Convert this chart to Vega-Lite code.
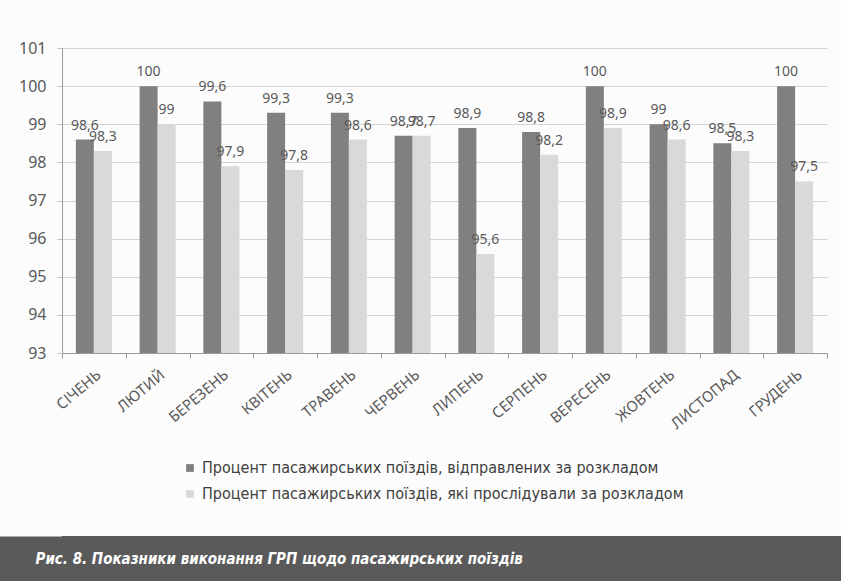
{
  "$schema": "https://vega.github.io/schema/vega-lite/v6.json",
  "background": "#fcfcfc",
  "padding": {"top": 40, "left": 0, "right": 0, "bottom": 0},
  "columns": 1,
  "align": "none",
  "spacing": 104,
  "config": {
    "locale": {"number": {"decimal": ",", "thousands": " ", "grouping": [3], "currency": ["", ""]}},
    "font": "Noto Sans"
  },
  "datasets": {
    "rows": [
      {"month": "СІЧЕНЬ", "series": "Процент пасажирських поїздів, відправлених за розкладом", "value": 98.6},
      {"month": "СІЧЕНЬ", "series": "Процент пасажирських поїздів, які прослідували за розкладом", "value": 98.3},
      {"month": "ЛЮТИЙ", "series": "Процент пасажирських поїздів, відправлених за розкладом", "value": 100},
      {"month": "ЛЮТИЙ", "series": "Процент пасажирських поїздів, які прослідували за розкладом", "value": 99},
      {"month": "БЕРЕЗЕНЬ", "series": "Процент пасажирських поїздів, відправлених за розкладом", "value": 99.6},
      {"month": "БЕРЕЗЕНЬ", "series": "Процент пасажирських поїздів, які прослідували за розкладом", "value": 97.9},
      {"month": "КВІТЕНЬ", "series": "Процент пасажирських поїздів, відправлених за розкладом", "value": 99.3},
      {"month": "КВІТЕНЬ", "series": "Процент пасажирських поїздів, які прослідували за розкладом", "value": 97.8},
      {"month": "ТРАВЕНЬ", "series": "Процент пасажирських поїздів, відправлених за розкладом", "value": 99.3},
      {"month": "ТРАВЕНЬ", "series": "Процент пасажирських поїздів, які прослідували за розкладом", "value": 98.6},
      {"month": "ЧЕРВЕНЬ", "series": "Процент пасажирських поїздів, відправлених за розкладом", "value": 98.7},
      {"month": "ЧЕРВЕНЬ", "series": "Процент пасажирських поїздів, які прослідували за розкладом", "value": 98.7},
      {"month": "ЛИПЕНЬ", "series": "Процент пасажирських поїздів, відправлених за розкладом", "value": 98.9},
      {"month": "ЛИПЕНЬ", "series": "Процент пасажирських поїздів, які прослідували за розкладом", "value": 95.6},
      {"month": "СЕРПЕНЬ", "series": "Процент пасажирських поїздів, відправлених за розкладом", "value": 98.8},
      {"month": "СЕРПЕНЬ", "series": "Процент пасажирських поїздів, які прослідували за розкладом", "value": 98.2},
      {"month": "ВЕРЕСЕНЬ", "series": "Процент пасажирських поїздів, відправлених за розкладом", "value": 100},
      {"month": "ВЕРЕСЕНЬ", "series": "Процент пасажирських поїздів, які прослідували за розкладом", "value": 98.9},
      {"month": "ЖОВТЕНЬ", "series": "Процент пасажирських поїздів, відправлених за розкладом", "value": 99},
      {"month": "ЖОВТЕНЬ", "series": "Процент пасажирських поїздів, які прослідували за розкладом", "value": 98.6},
      {"month": "ЛИСТОПАД", "series": "Процент пасажирських поїздів, відправлених за розкладом", "value": 98.5},
      {"month": "ЛИСТОПАД", "series": "Процент пасажирських поїздів, які прослідували за розкладом", "value": 98.3},
      {"month": "ГРУДЕНЬ", "series": "Процент пасажирських поїздів, відправлених за розкладом", "value": 100},
      {"month": "ГРУДЕНЬ", "series": "Процент пасажирських поїздів, які прослідували за розкладом", "value": 97.5}
    ],
    "caption": [{"text": "Рис. 8. Показники виконання ГРП щодо пасажирських поїздів"}]
  },
  "concat": [
    {
      "width": 765,
      "height": 305,
      "data": {"name": "rows"},
      "view": {"stroke": null},
      "encoding": {
        "x": {
          "field": "month", "type": "nominal", "sort": null,
          "scale": {"paddingInner": 0, "paddingOuter": 0},
          "axis": {
            "title": null, "labelAngle": -40, "labelFontSize": 15, "labelColor": "#595959",
            "tickBand": "extent", "tickSize": 5, "tickColor": "#9a9a9a", "domainColor": "#9a9a9a",
            "labelPadding": 9, "grid": false
          }
        },
        "xOffset": {"field": "series", "type": "nominal", "scale": {"paddingInner": 0, "paddingOuter": 0.77}},
        "y": {
          "field": "value", "type": "quantitative",
          "scale": {"domain": [93, 101], "zero": false, "nice": false},
          "axis": {
            "title": null,
            "values": [93, 94, 95, 96, 97, 98, 99, 100, 101],
            "labelFontSize": 16, "labelColor": "#595959", "labelPadding": 11,
            "tickSize": 5, "tickColor": "#c0c0c0", "domainColor": "#9a9a9a",
            "gridColor": "#d4d4d4", "gridWidth": 1
          }
        }
      },
      "layer": [
        {
          "mark": {"type": "bar", "clip": true},
          "encoding": {
            "color": {
              "field": "series", "type": "nominal",
              "scale": {"range": ["#808080", "#d9d9d9"]},
              "legend": {
                "title": null, "orient": "none", "legendX": 120, "legendY": 412,
                "symbolType": "square", "symbolSize": 60, "symbolStrokeWidth": 0,
                "labelFont": "DejaVu Sans Condensed", "labelFontSize": 16, "labelColor": "#404040",
                "labelLimit": 0, "rowPadding": 10, "padding": 0
              }
            }
          }
        },
        {
          "mark": {"type": "text", "dy": -14, "fontSize": 14, "color": "#595959"},
          "encoding": {"text": {"field": "value", "type": "quantitative", "format": "~r"}}
        }
      ]
    },
    {
      "width": 779,
      "height": 45,
      "data": {"name": "caption"},
      "view": {"fill": "#5a5a5a", "stroke": null},
      "mark": {
        "type": "text", "align": "left", "baseline": "middle", "dx": -416,
        "font": "DejaVu Sans Condensed", "fontStyle": "italic", "fontWeight": "bold",
        "fontSize": 15, "color": "#ffffff"
      },
      "encoding": {
        "text": {"field": "text"},
        "y": {
          "field": "text", "type": "nominal",
          "axis": {
            "title": null, "labels": false, "ticks": false,
            "domain": true, "domainColor": "#5a5a5a", "domainWidth": 124, "offset": 62
          }
        }
      }
    }
  ]
}
